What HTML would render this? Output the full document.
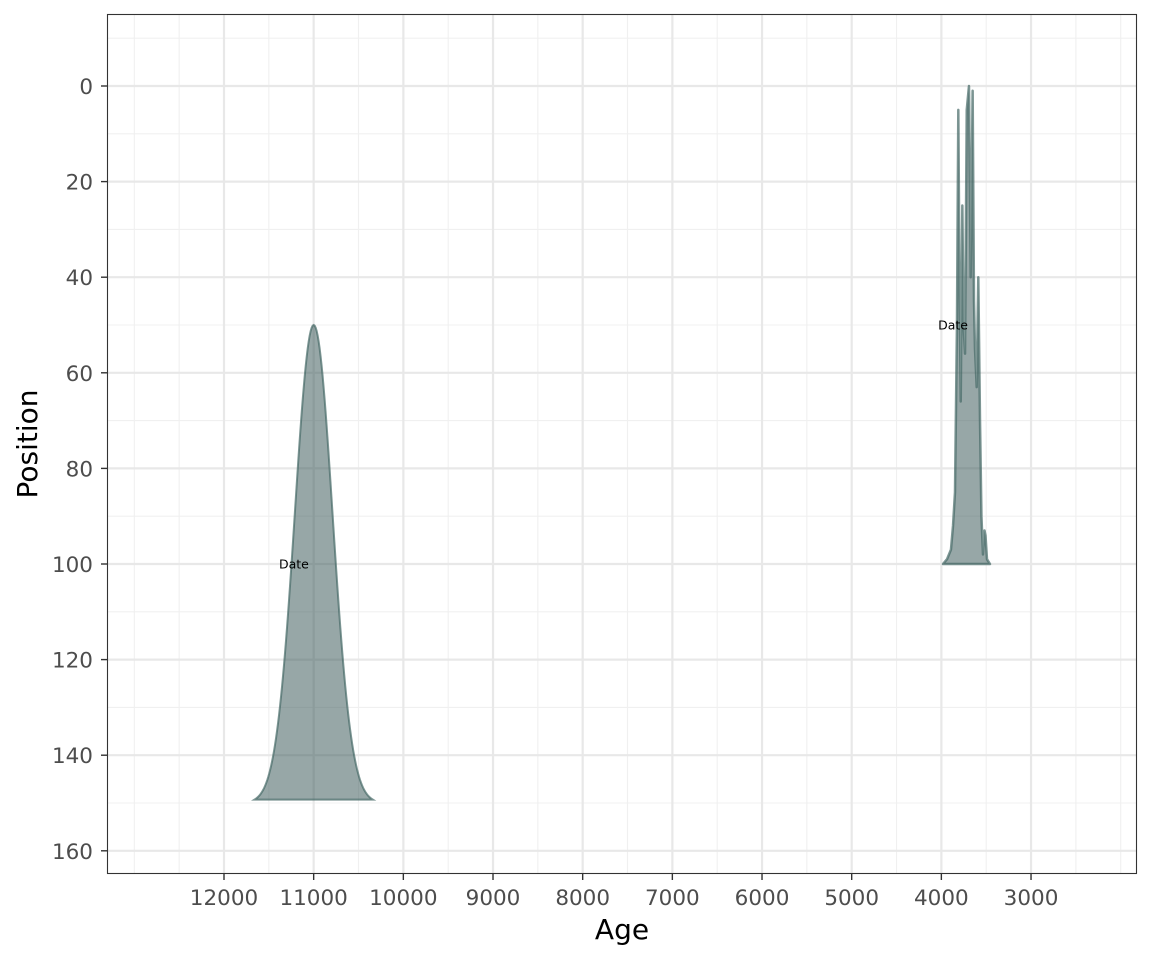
<!DOCTYPE html>
<html><head><meta charset="utf-8"><style>
body{margin:0;background:#fff;}
svg text{font-family:"DejaVu Sans","Liberation Sans",sans-serif;}
</style></head><body>
<svg id="chart" width="1152" height="960" xmlns="http://www.w3.org/2000/svg">
<rect width="1152" height="960" fill="#fff"/>
<g id="grid"></g>
<g id="marks"></g>
<g id="axes"></g>
<rect x="107.5" y="14.5" width="1029" height="859" fill="none" stroke="#333" stroke-width="1.1"/>
<text x="622" y="939" font-size="28" text-anchor="middle" fill="#000">Age</text>
<text transform="translate(37,444) rotate(-90)" font-size="28" text-anchor="middle" fill="#000">Position</text>
</svg>
<script>
const xTicks=[12000,11000,10000,9000,8000,7000,6000,5000,4000,3000];
const yTicks=[0,20,40,60,80,100,120,140,160];
const gaussMean=11000, gaussSd=210, gaussHalfRange=660, gaussBase=150, gaussHeight=100;
const spikeAges=[3982,3937,3893,3870,3848,3826,3811,3798,3784,3766,3753,3736,3717,3692,3673,3651,3636,3625,3606,3588,3569,3553,3536,3519,3508,3491,3458];
const spikeDens=[0,0.01,0.03,0.08,0.15,0.5,0.95,0.6,0.34,0.75,0.5,0.44,0.95,1.0,0.6,0.99,0.55,0.45,0.37,0.6,0.3,0.1,0.02,0.07,0.06,0.01,0];
const spikeBase=100, spikeHeight=100;
const labelAges=[11220,3870], labelPos=[100,50], labelText=["Date","Date"];

const X=a=>224+(12000-a)*0.08967;
const Y=p=>86+p*4.78;
const NS="http://www.w3.org/2000/svg";
function mk(tag,attrs,parent){const e=document.createElementNS(NS,tag);for(const k in attrs)e.setAttribute(k,attrs[k]);parent.appendChild(e);return e;}
const grid=document.getElementById('grid'),marks=document.getElementById('marks'),axes=document.getElementById('axes');
for(let a=2000;a<=13000;a+=500){if(xTicks.includes(a))continue;const l=mk('line',{x1:X(a),x2:X(a),y1:14,y2:874,stroke:'#f0f0f0','stroke-width':1.1},grid);

}
for(let p=-10;p<=160;p+=20){const l=mk('line',{x1:107,x2:1137,y1:Y(p),y2:Y(p),stroke:'#f0f0f0','stroke-width':1.1},grid);

}
xTicks.forEach(a=>{const l=mk('line',{x1:X(a),x2:X(a),y1:14,y2:874,stroke:'#e8e8e8','stroke-width':2.2},grid);


const t=mk('line',{x1:X(a),x2:X(a),y1:874,y2:880,stroke:'#333','stroke-width':1.4},axes);


const tx=mk('text',{x:X(a),y:905,'font-size':21.5,'text-anchor':'middle',fill:'#4d4d4d'},axes);tx.textContent=a;

});
yTicks.forEach(p=>{const l=mk('line',{x1:107,x2:1137,y1:Y(p),y2:Y(p),stroke:'#e8e8e8','stroke-width':2.2},grid);


const t=mk('line',{x1:101,x2:107,y1:Y(p),y2:Y(p),stroke:'#333','stroke-width':1.4},axes);


const tx=mk('text',{x:93,y:Y(p)+8,'font-size':21.5,'text-anchor':'end',fill:'#4d4d4d'},axes);tx.textContent=p;

});
let pts=[];
for(let i=0;i<=120;i++){const a=gaussMean-gaussHalfRange+i*(2*gaussHalfRange/120);const d=Math.exp(-0.5*((a-gaussMean)/gaussSd)**2);pts.push(X(a).toFixed(2)+','+Y(gaussBase-d*gaussHeight).toFixed(2));}
const g=mk('polygon',{points:pts.join(' '),fill:'rgba(47,79,79,0.5)',stroke:'rgba(70,105,103,0.7)','stroke-width':2},marks);


pts=spikeAges.map((a,i)=>X(a).toFixed(2)+','+Y(spikeBase-spikeDens[i]*spikeHeight).toFixed(2));
const s=mk('polygon',{points:pts.join(' '),fill:'rgba(47,79,79,0.5)',stroke:'rgba(70,105,103,0.7)','stroke-width':2.5,'stroke-linejoin':'round'},marks);


labelAges.forEach((a,i)=>{const t=mk('text',{x:X(a),y:Y(labelPos[i])+4.5,'font-size':12.5,'text-anchor':'middle',fill:'#000'},marks);t.textContent=labelText[i];

});
</script>
</body></html>
